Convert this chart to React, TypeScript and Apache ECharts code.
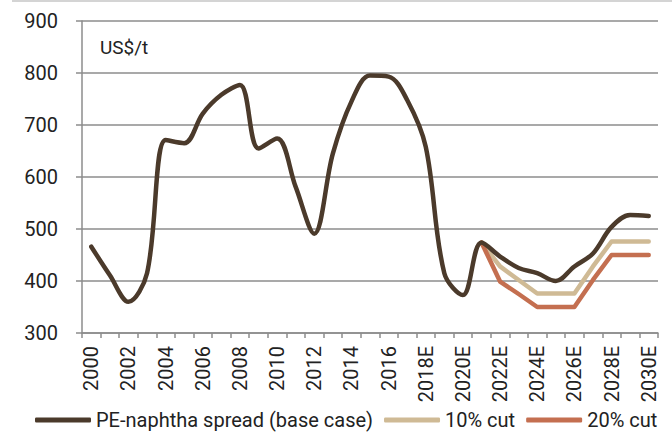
import React, { useEffect, useRef } from "react";
import * as echarts from "echarts";

const years: string[] = [
  "2000", "2001", "2002", "2003", "2004", "2005", "2006", "2007", "2008", "2009",
  "2010", "2011", "2012", "2013", "2014", "2015", "2016", "2017", "2018E", "2019E",
  "2020E", "2021E", "2022E", "2023E", "2024E", "2025E", "2026E", "2027E", "2028E", "2029E", "2030E",
];

const baseCase: number[] = [
  466, 411, 360, 415, 671, 665, 722, 758, 777, 655,
  674, 581, 491, 645, 745, 795, 793, 748, 658, 415,
  373, 474, 447, 425, 415, 400, 428, 453, 504, 527, 525,
];

const cut10: (number | null)[] = [
  null, null, null, null, null, null, null, null, null, null,
  null, null, null, null, null, null, null, null, null, null,
  null, 474, 428, 402, 376, 376, 376, 428, 476, 476, 476,
];

const cut20: (number | null)[] = [
  null, null, null, null, null, null, null, null, null, null,
  null, null, null, null, null, null, null, null, null, null,
  null, 474, 399, 375, 350, 350, 350, 402, 450, 450, 450,
];

const FONT = "Roboto, 'Open Sans', sans-serif";
const TEXT = "#222222";
const GRID = "#8c8c8c";

export default function App() {
  const ref = useRef<HTMLDivElement>(null);
  useEffect(() => {
    if (!ref.current) return;
    const chart = echarts.init(ref.current, undefined, { renderer: "svg" });
    chart.setOption({
      animation: false,
      backgroundColor: "#ffffff",
      textStyle: { fontFamily: FONT },
      grid: { left: 82, right: 14, top: 21, bottom: 110, containLabel: false },
      graphic: [
        { type: "rect", left: 12, top: 0, shape: { width: 660, height: 2 }, style: { fill: "#d4d4d4" } },
        { type: "text", left: 100, top: 38, style: { text: "US$/t", fill: TEXT, font: `19px ${FONT}` } },
      ],
      legend: {
        left: 35,
        right: 0,
        top: 410,
        padding: 0,
        icon: "roundRect",
        itemWidth: 56,
        itemHeight: 5,
        itemGap: 11,
        textStyle: { fontFamily: FONT, fontSize: 20, color: TEXT },
        data: ["PE-naphtha spread (base case)", "10% cut", "20% cut"],
      },
      xAxis: {
        type: "category",
        data: years,
        boundaryGap: true,
        axisLine: { lineStyle: { color: GRID, width: 1.5 } },
        axisTick: { show: true, interval: 0, length: 5, lineStyle: { color: GRID, width: 1.5 } },
        axisLabel: { interval: 1, rotate: 90, margin: 13, color: TEXT, fontSize: 20, fontFamily: FONT },
        splitLine: { show: false },
      },
      yAxis: {
        type: "value",
        min: 300,
        max: 900,
        interval: 100,
        axisLine: { show: true, lineStyle: { color: GRID, width: 1.5 } },
        axisTick: { show: true, length: 6, lineStyle: { color: GRID, width: 1.5 } },
        axisLabel: { margin: 24, color: TEXT, fontSize: 20, fontFamily: FONT },
        splitLine: { show: true, lineStyle: { color: GRID, width: 1.5 } },
      },
      series: [
        {
          name: "PE-naphtha spread (base case)",
          type: "line",
          data: baseCase,
          smooth: 0.35,
          symbol: "none",
          z: 5,
          lineStyle: { color: "#4b3a2b", width: 4.5, cap: "round", join: "round" },
          itemStyle: { color: "#4b3a2b" },
        },
        {
          name: "10% cut",
          type: "line",
          data: cut10,
          symbol: "none",
          z: 3,
          lineStyle: { color: "#cfba95", width: 4.5, cap: "round", join: "round" },
          itemStyle: { color: "#cfba95" },
        },
        {
          name: "20% cut",
          type: "line",
          data: cut20,
          symbol: "none",
          z: 4,
          lineStyle: { color: "#c46f50", width: 4.5, cap: "round", join: "round" },
          itemStyle: { color: "#c46f50" },
        },
      ],
    });
    return () => chart.dispose();
  }, []);
  return <div ref={ref} style={{ width: 672, height: 443, position: "absolute", left: 0, top: 0 }} />;
}
